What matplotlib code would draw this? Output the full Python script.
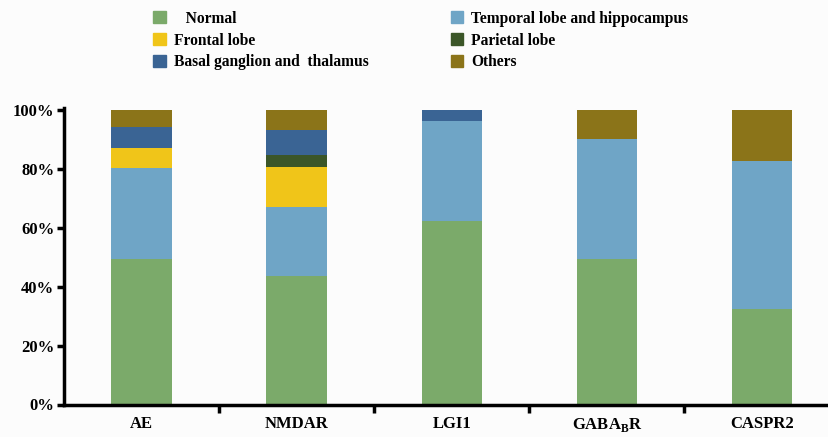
import numpy as np
import matplotlib.pyplot as plt
from matplotlib.patches import Patch

plt.rcParams['font.family'] = 'Liberation Serif'
plt.rcParams['font.weight'] = 'bold'
plt.rcParams['mathtext.fontset'] = 'custom'
plt.rcParams['mathtext.rm'] = 'Liberation Serif:bold'
plt.rcParams['mathtext.bf'] = 'Liberation Serif:bold'

# data (percent of patients)
groups = ["AE", "NMDAR", "LGI1", r"GABA$_\mathregular{B}$R", "CASPR2"]
normal    = [49.5, 43.5, 62.4, 49.3, 32.3]
temporal  = [30.7, 23.7, 34.0, 40.7, 50.4]
frontal   = [6.9, 13.3, 0.0, 0.0, 0.0]
parietal  = [0.0, 4.3, 0.0, 0.0, 0.0]
basal     = [7.0, 8.3, 3.6, 0.0, 0.0]
others    = [5.9, 6.9, 0.0, 10.0, 17.3]

colors = {"Normal": "#7baa6a", "Temporal": "#6fa5c6", "Frontal": "#f0c519",
          "Parietal": "#3b5628", "Basal": "#3a6494", "Others": "#8b7419"}

stack = [("Normal", normal), ("Temporal", temporal), ("Frontal", frontal),
         ("Parietal", parietal), ("Basal", basal), ("Others", others)]

fig = plt.figure(figsize=(8.29, 4.37), dpi=100, facecolor="#fcfcfc")
ax = fig.add_axes([64/829, 32.5/437, 775.5/829, 296/437])
ax.set_facecolor("#fcfcfc")

x = np.arange(len(groups))
bottom = np.zeros(len(groups))
for name, vals in stack:
    vals = np.array(vals)
    ax.bar(x, vals, 0.39, bottom=bottom, color=colors[name], linewidth=0)
    bottom += vals

ax.set_xlim(-0.5, 4.5)
ax.set_ylim(0, 100.5)
ax.set_yticks([0, 20, 40, 60, 80, 100])
ax.set_yticklabels(["0%", "20%", "40%", "60%", "80%", "100%"])
ax.set_xticks(x)
ax.set_xticklabels(groups)
ax.set_xticks(np.arange(0.5, 4.5, 1), minor=True)
ax.tick_params(axis="x", which="major", length=0, pad=8, labelsize=12)
ax.tick_params(axis="x", which="minor", length=6, width=2.5, direction="out")
ax.tick_params(axis="y", length=5, width=2.5, labelsize=12, pad=2)
for s in ["top", "right"]:
    ax.spines[s].set_visible(False)
for s in ["left", "bottom"]:
    ax.spines[s].set_linewidth(2.5)

handles = [Patch(color=colors[k]) for k in ["Normal", "Frontal", "Basal", "Temporal", "Parietal", "Others"]]
labels = ["   Normal", "Frontal lobe", "Basal ganglion and  thalamus",
          "Temporal lobe and hippocampus", "Parietal lobe", "Others"]
fig.legend(handles, labels, ncol=2, loc="upper left", bbox_to_anchor=(144/829, 0.997),
           frameon=False, fontsize=11.2, handlelength=0.8, handleheight=0.8,
           handletextpad=0.5, columnspacing=5.3, labelspacing=0.38,
           borderaxespad=0.2)

fig.savefig("out.png", dpi=100, facecolor=fig.get_facecolor())
